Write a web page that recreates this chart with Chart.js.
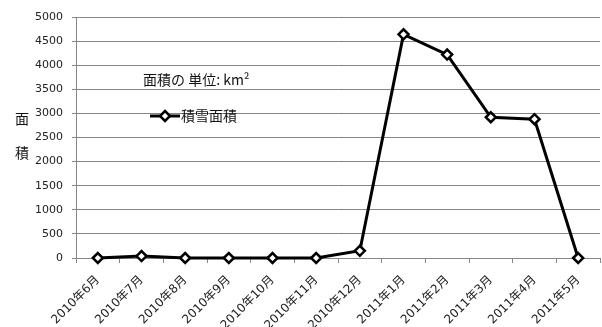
<!DOCTYPE html>
<html>
<head>
<meta charset="utf-8">
<script src="https://cdn.jsdelivr.net/npm/chart.js@4/dist/chart.umd.min.js"></script>
<style>
  html, body { margin: 0; padding: 0; background: #fff; }
  #wrap { width: 602px; height: 327px; }
</style>
</head>
<body>
<div id="wrap"><canvas id="c" width="602" height="327"></canvas></div>
<script>
// 月別の積雪面積 (km²)
const months = ['2010年6月', '2010年7月', '2010年8月', '2010年9月', '2010年10月', '2010年11月',
                '2010年12月', '2011年1月', '2011年2月', '2011年3月', '2011年4月', '2011年5月'];
const snowArea = [0, 40, 0, 0, 0, 0, 150, 4640, 4220, 2920, 2880, 0];
const seriesName = '積雪面積';
const unitNote = '面積の 単位: km²';
const yTitleChars = ['面', '積'];

const FONT_LATIN = '"DejaVu Sans", "Noto Sans CJK JP", sans-serif';
const FONT_CJK = '"Noto Sans CJK JP", "DejaVu Sans", sans-serif';

// 単位の注記・凡例・縦軸タイトルをグラフ内に描く
const overlay = {
  id: 'overlay',
  afterDraw(chart) {
    const ctx = chart.ctx;
    const ds = chart.data.datasets[0];
    ctx.save();
    ctx.fillStyle = '#111';
    ctx.textBaseline = 'middle';

    ctx.font = '14px ' + FONT_CJK;
    ctx.textAlign = 'left';
    ctx.fillText(unitNote, 143, 80);

    // 凡例
    const ly = 116;
    ctx.strokeStyle = ds.borderColor;
    ctx.lineWidth = ds.borderWidth;
    ctx.beginPath();
    ctx.moveTo(150, ly);
    ctx.lineTo(180, ly);
    ctx.stroke();
    ctx.fillStyle = '#fff';
    ctx.lineWidth = ds.pointBorderWidth;
    ctx.beginPath();
    const r = ds.pointRadius;
    ctx.moveTo(165, ly - r);
    ctx.lineTo(165 + r, ly);
    ctx.lineTo(165, ly + r);
    ctx.lineTo(165 - r, ly);
    ctx.closePath();
    ctx.fill();
    ctx.stroke();
    ctx.fillStyle = '#111';
    ctx.fillText(seriesName, 181, ly);

    // 縦軸タイトル（縦書き）
    ctx.textAlign = 'center';
    ctx.fillText(yTitleChars[0], 22, 119);
    ctx.fillText(yTitleChars[1], 22, 153);
    ctx.restore();
  }
};

new Chart(document.getElementById('c'), {
  type: 'line',
  data: {
    labels: months,
    datasets: [{
      label: seriesName,
      data: snowArea,
      borderColor: '#000',
      borderWidth: 3,
      tension: 0,
      pointStyle: 'rectRot',
      pointRadius: 5,
      pointBorderWidth: 2.5,
      pointBackgroundColor: '#fff',
      pointBorderColor: '#000',
      clip: false
    }]
  },
  options: {
    responsive: false,
    animation: false,
    layout: { autoPadding: false, padding: { top: 17, right: 2, left: 0, bottom: 0 } },
    plugins: {
      legend: { display: false },
      tooltip: { enabled: false }
    },
    scales: {
      x: {
        offset: true,
        grid: {
          offset: true,
          drawOnChartArea: false,
          drawTicks: true,
          tickLength: 5,
          color: '#868686'
        },
        border: { display: true, color: '#868686', width: 1 },
        ticks: {
          color: '#222',
          font: { size: 12, family: FONT_LATIN },
          minRotation: 45,
          maxRotation: 45,
          autoSkip: false,
          padding: 10
        },
        afterFit(scale) {
          scale.height = 69;
          scale.paddingRight = 0;
          scale.paddingLeft = 0;
        }
      },
      y: {
        min: 0,
        max: 5000,
        ticks: {
          stepSize: 500,
          color: '#222',
          font: { size: 11, family: FONT_LATIN },
          padding: 9,
          callback: (v) => String(v)
        },
        grid: {
          color: '#868686',
          lineWidth: 1,
          drawTicks: true,
          tickLength: 4
        },
        border: { display: true, color: '#868686', width: 1 },
        afterFit(scale) {
          scale.width = 76;
          scale.paddingTop = 0;
          scale.paddingBottom = 0;
        }
      }
    }
  },
  plugins: [overlay]
});
</script>
</body>
</html>
